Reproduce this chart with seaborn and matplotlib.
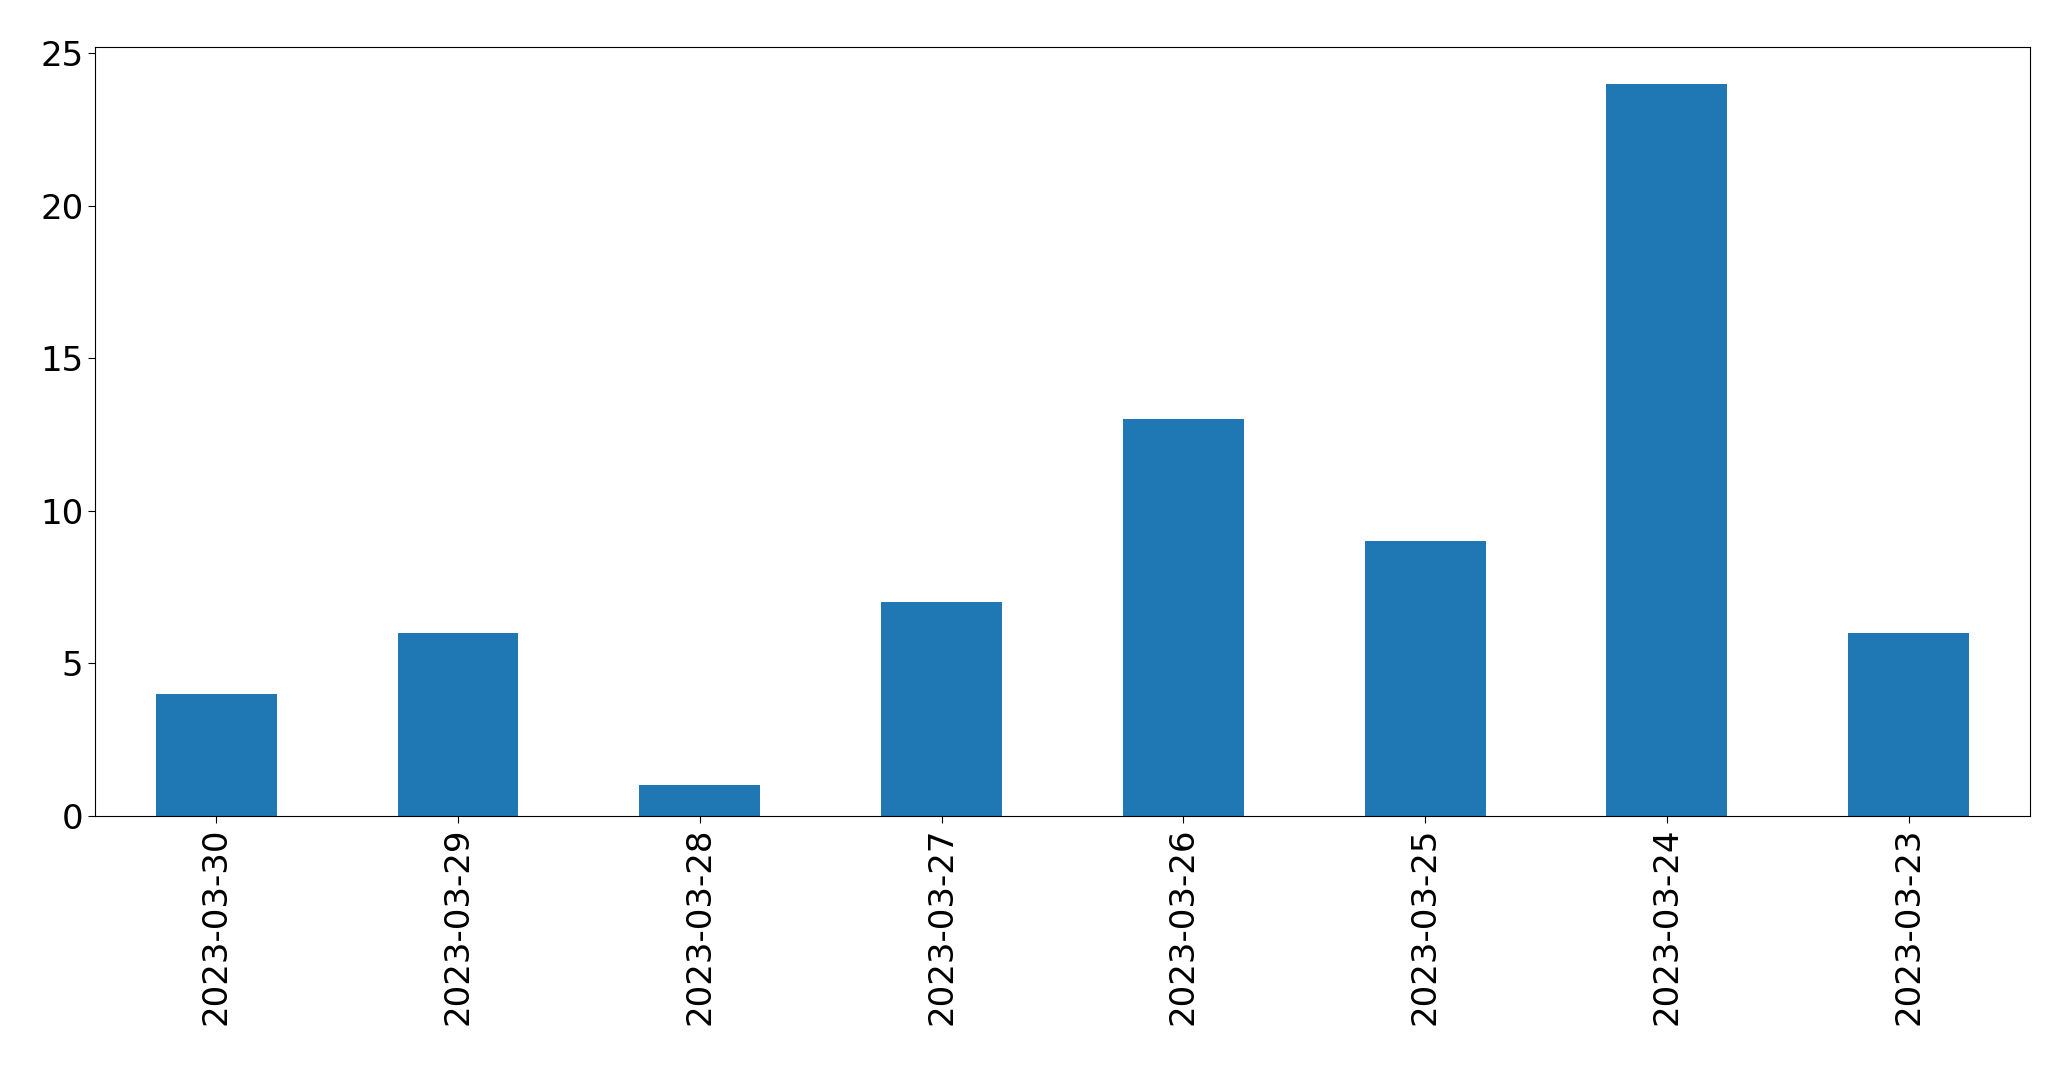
import pandas as pd
import matplotlib
matplotlib.use("Agg")
import matplotlib.pyplot as plt
import seaborn as sns

dates = ["2023-03-30", "2023-03-29", "2023-03-28", "2023-03-27",
         "2023-03-26", "2023-03-25", "2023-03-24", "2023-03-23"]
counts = [4, 6, 1, 7, 13, 9, 24, 6]

df = pd.DataFrame({"date": dates, "count": counts})

fig, ax = plt.subplots(figsize=(20.71, 10.69), dpi=100)
sns.barplot(data=df, x="date", y="count", order=dates, color="#1f77b4",
            saturation=1, width=0.5, ax=ax)
ax.set_xlim(-0.5, len(dates) - 0.5)
ax.set_ylim(0, max(counts) * 1.05)
ax.set_xlabel("")
ax.set_ylabel("")
ax.tick_params(axis="both", labelsize=24.5, length=5)
ax.tick_params(axis="x", labelrotation=90)
fig.subplots_adjust(left=0.046, right=0.980, top=0.956, bottom=0.237)
fig.savefig("out.png", dpi=100)
plt.close(fig)
